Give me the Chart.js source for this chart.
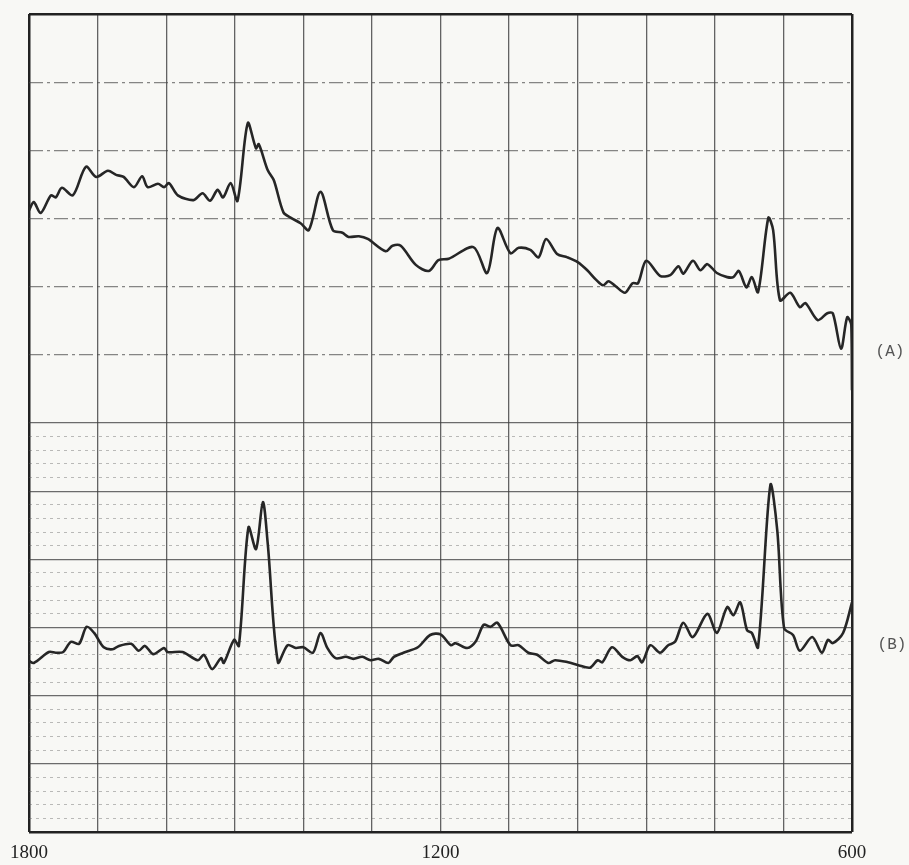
<!DOCTYPE html>
<html>
<head>
<meta charset="utf-8">
<script src="https://cdn.jsdelivr.net/npm/chart.js@4.4.0/dist/chart.umd.min.js"></script>
<style>
    html, body { margin: 0; padding: 0; background: #f8f8f5; }
    #wrap { width: 909px; height: 865px; }
</style>
</head>
<body>
<div id="wrap"><canvas id="spectrum" width="909" height="865"></canvas></div>
<script>
// Wavenumber axis (cm-1), shown from 1800 down to 600
const xLabels = [1800, 1200, 600];

// Trace (A), upper panel - values in chart-grid divisions (0 = bottom, 12 = top)
const wavenumbersA = [1800,1793,1783,1768,1761,1752,1736,1717,1702,1685,1673,1662,1647,1635,1627,1612,1603,1596,1583,1560,1547,1536,1525,1517,1506,1496,1481,1469,1465,1452,1443,1429,1418,1404,1392,1375,1357,1343,1334,1319,1306,1280,1270,1258,1236,1217,1203,1188,1152,1132,1117,1098,1086,1069,1057,1046,1030,1015,1000,986,973,963,955,945,931,920,912,900,880,865,853,846,832,821,811,797,782,773,765,754,746,737,722,715,705,690,676,668,650,636,628,616,607,601,600];
const valuesA = [9.12,9.24,9.08,9.34,9.31,9.45,9.34,9.76,9.61,9.70,9.64,9.61,9.46,9.62,9.46,9.51,9.46,9.52,9.34,9.27,9.37,9.26,9.42,9.31,9.52,9.26,10.40,10.03,10.09,9.71,9.56,9.09,9.01,8.93,8.83,9.39,8.83,8.79,8.73,8.74,8.70,8.52,8.60,8.60,8.32,8.23,8.39,8.41,8.58,8.20,8.86,8.49,8.57,8.54,8.43,8.70,8.48,8.43,8.36,8.24,8.10,8.02,8.08,8.01,7.91,8.05,8.05,8.38,8.16,8.17,8.30,8.19,8.38,8.24,8.33,8.20,8.14,8.14,8.23,7.99,8.14,7.92,9.01,8.83,7.80,7.91,7.70,7.76,7.51,7.61,7.61,7.09,7.55,7.44,6.48];

// Trace (B), lower panel
const wavenumbersB = [1800,1793,1771,1761,1750,1739,1727,1716,1705,1691,1678,1669,1651,1640,1631,1619,1603,1598,1576,1554,1545,1533,1520,1516,1501,1494,1480,1469,1459,1452,1437,1423,1411,1400,1386,1375,1365,1353,1338,1327,1314,1302,1290,1276,1268,1254,1233,1215,1200,1185,1178,1161,1149,1137,1127,1117,1098,1086,1072,1059,1043,1033,1014,1000,982,971,964,950,935,923,913,906,894,880,868,858,846,832,811,797,782,773,763,753,746,737,719,709,699,686,676,658,644,635,628,613,600];
const valuesB = [2.51,2.48,2.64,2.63,2.64,2.79,2.76,3.01,2.92,2.71,2.68,2.73,2.76,2.66,2.73,2.61,2.70,2.64,2.64,2.52,2.60,2.39,2.55,2.48,2.82,2.73,4.47,4.15,4.84,4.24,2.49,2.74,2.70,2.71,2.63,2.92,2.70,2.55,2.57,2.54,2.57,2.52,2.54,2.48,2.57,2.63,2.71,2.89,2.90,2.74,2.77,2.70,2.79,3.04,3.01,3.07,2.74,2.74,2.63,2.60,2.48,2.52,2.49,2.45,2.41,2.52,2.49,2.71,2.57,2.52,2.58,2.49,2.74,2.63,2.74,2.79,3.07,2.86,3.20,2.92,3.30,3.18,3.37,2.96,2.92,2.71,5.09,4.43,2.99,2.89,2.66,2.86,2.63,2.82,2.77,2.92,3.37];

const traceLabels = ['(A)', '(B)'];

function toPoints(xs, ys) {
    return xs.map((x, i) => ({ x: x, y: ys[i] }));
}

const isWhole = v => Math.abs(v - Math.round(v)) < 1e-6;
const tickVal = ctx => ctx.tick ? ctx.tick.value : 0;

// draw the "(A)" / "(B)" markers to the right of the plot
const traceLabelPlugin = {
    id: 'traceLabels',
    afterDraw(chart) {
        const ctx = chart.ctx;
        const yScale = chart.scales.y;
        const x = chart.chartArea.right + 38;
        ctx.save();
        ctx.font = '16px "Liberation Mono", monospace';
        ctx.fillStyle = '#555';
        ctx.textAlign = 'center';
        ctx.textBaseline = 'middle';
        ctx.fillText(traceLabels[0], x, yScale.getPixelForValue(7.05));
        ctx.fillText(traceLabels[1], x + 2, yScale.getPixelForValue(2.75));
        ctx.restore();
    }
};

const ctx = document.getElementById('spectrum').getContext('2d');
new Chart(ctx, {
    type: 'line',
    data: {
        datasets: [{
            label: traceLabels[0],
            data: toPoints(wavenumbersA, valuesA),
            borderColor: '#262626',
            borderWidth: 2.6,
            pointRadius: 0,
            tension: 0.3
        }, {
            label: traceLabels[1],
            data: toPoints(wavenumbersB, valuesB),
            borderColor: '#262626',
            borderWidth: 2.6,
            pointRadius: 0,
            tension: 0.3
        }]
    },
    options: {
        responsive: false,
        animation: false,
        layout: { padding: { left: 28, right: 57, top: 14, bottom: 2 } },
        plugins: {
            legend: { display: false },
            tooltip: { enabled: false }
        },
        scales: {
            x: {
                type: 'linear',
                reverse: true,
                min: 600,
                max: 1800,
                afterFit: scale => { scale.height = 31; },
                border: { display: false },
                grid: {
                    drawTicks: false,
                    color: ctx => (tickVal(ctx) === 600 || tickVal(ctx) === 1800) ? '#222' : 'rgba(50,50,50,0.75)',
                    lineWidth: ctx => (tickVal(ctx) === 600 || tickVal(ctx) === 1800) ? 2.5 : 1.3
                },
                ticks: {
                    stepSize: 100,
                    autoSkip: false,
                    maxRotation: 0,
                    padding: 10,
                    color: '#222',
                    font: { family: '"Liberation Serif", serif', size: 19 },
                    callback: value => xLabels.includes(value) ? String(value) : ''
                }
            },
            y: {
                min: 0,
                max: 12,
                border: {
                    display: false,
                    // dash-dot majors in the upper panel, dotted minors in the lower one
                    dash: ctx => {
                        const v = tickVal(ctx);
                        if (v === 0 || v === 12) return [];
                        if (isWhole(v)) return v > 6 ? [14, 4, 3, 4] : [];
                        return [3, 4];
                    }
                },
                grid: {
                    drawTicks: false,
                    color: ctx => {
                        const v = tickVal(ctx);
                        if (v === 0 || v === 12) return '#222';
                        if (isWhole(v)) return v > 6 ? 'rgba(70,70,70,0.65)' : 'rgba(60,60,60,0.75)';
                        return v < 6 ? 'rgba(90,90,90,0.4)' : 'rgba(0,0,0,0)';
                    },
                    lineWidth: ctx => {
                        const v = tickVal(ctx);
                        if (v === 0 || v === 12) return 2.5;
                        return isWhole(v) ? 1.3 : 1;
                    }
                },
                ticks: {
                    display: false,
                    stepSize: 0.2
                }
            }
        }
    },
    plugins: [traceLabelPlugin]
});
</script>
</body>
</html>
